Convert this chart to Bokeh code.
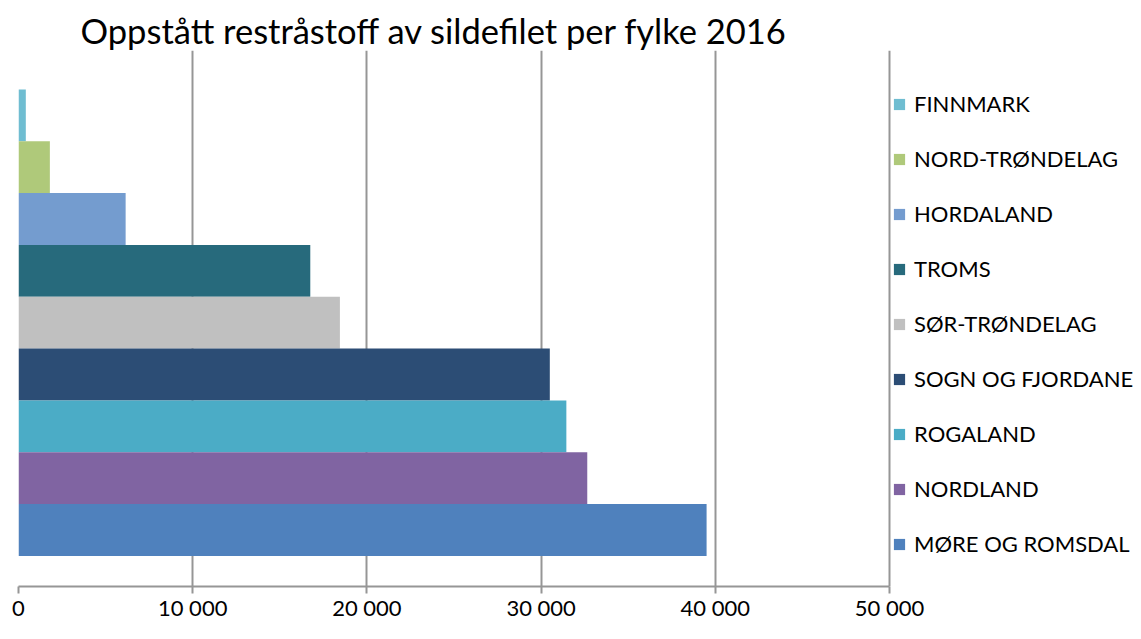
from bokeh.plotting import figure
from bokeh.models import (ColumnDataSource, Range1d, FixedTicker, Legend, LegendItem)
from bokeh.embed import file_html
from bokeh.resources import INLINE

# Data (top to bottom, as in legend)
counties = ["FINNMARK", "NORD-TRØNDELAG", "HORDALAND", "TROMS", "SØR-TRØNDELAG",
            "SOGN OG FJORDANE", "ROGALAND", "NORDLAND", "MØRE OG ROMSDAL"]
values = [420, 1800, 6150, 16750, 18450, 30500, 31450, 32650, 39500]
colors = ["#6FBDD1", "#AFC97A", "#749CCF", "#276A7C", "#C0C0C0",
          "#2C4D75", "#4BACC6", "#8064A2", "#4F81BD"]
tick_values = [0, 10000, 20000, 30000, 40000, 50000]
tick_labels = ["0", "10 000", "20 000", "30 000", "40 000", "50 000"]

n = len(counties)
ypos = [n - 1 - i for i in range(n)]

FONT = "Lato"

# layout
W, H = 1133, 623
BORDER_L = 18
AXIS_PX = 871                      # pixels from 0 to 50 000
frame_w = W - BORDER_L
x_end = tick_values[-1] * frame_w / AXIS_PX

p = figure(width=W, height=H, output_backend="svg", toolbar_location=None,
           x_range=Range1d(0, x_end), y_range=Range1d(-1.09, n - 1 + 1.25),
           min_border_left=BORDER_L, min_border_right=0, min_border_top=50, min_border_bottom=36)
p.outline_line_color = None
p.background_fill_color = "white"
p.border_fill_color = "white"

p.title.text = "Oppstått restråstoff av sildefilet per fylke 2016"
p.title.text_font = FONT
p.title.text_font_size = "34.5px"
p.title.text_font_style = "normal"
p.title.text_color = "#000000"
p.title.align = "left"
p.title.offset = 62
p.title.standoff = 0

items = []
for i in range(n):
    src = ColumnDataSource(dict(y=[ypos[i]], right=[values[i]]))
    r = p.hbar(y="y", right="right", left=0, height=1.0, source=src,
               fill_color=colors[i], line_color=None)
    items.append(LegendItem(label=counties[i], renderers=[r]))

legend = Legend(items=items, location=(AXIS_PX + 3, 29), margin=0, padding=4,
                glyph_width=14, glyph_height=14, label_height=27, spacing=28,
                label_standoff=8, border_line_color=None, background_fill_alpha=0,
                label_text_font=FONT, label_text_font_size="22px", label_text_color="#000000")
p.add_layout(legend, "center")

p.xaxis.ticker = FixedTicker(ticks=tick_values)
p.xaxis.bounds = (tick_values[0], tick_values[-1])
p.xaxis.major_label_overrides = {v: l for v, l in zip(tick_values, tick_labels)}
p.xaxis.major_label_text_font = FONT
p.xaxis.major_label_text_font_size = "22px"
p.xaxis.major_label_text_color = "#000000"
p.xaxis.major_label_standoff = 0
p.xaxis.axis_line_color = "#969696"
p.xaxis.axis_line_width = 2
p.xaxis.major_tick_line_color = "#969696"
p.xaxis.major_tick_line_width = 2
p.xaxis.major_tick_out = 7
p.xaxis.major_tick_in = 0
p.xaxis.minor_tick_line_color = None

p.yaxis.visible = False
p.ygrid.visible = False
p.xgrid.ticker = FixedTicker(ticks=tick_values)
p.xgrid.grid_line_color = "#969696"
p.xgrid.grid_line_width = 2

open("out.html", "w").write(file_html(p, INLINE))
